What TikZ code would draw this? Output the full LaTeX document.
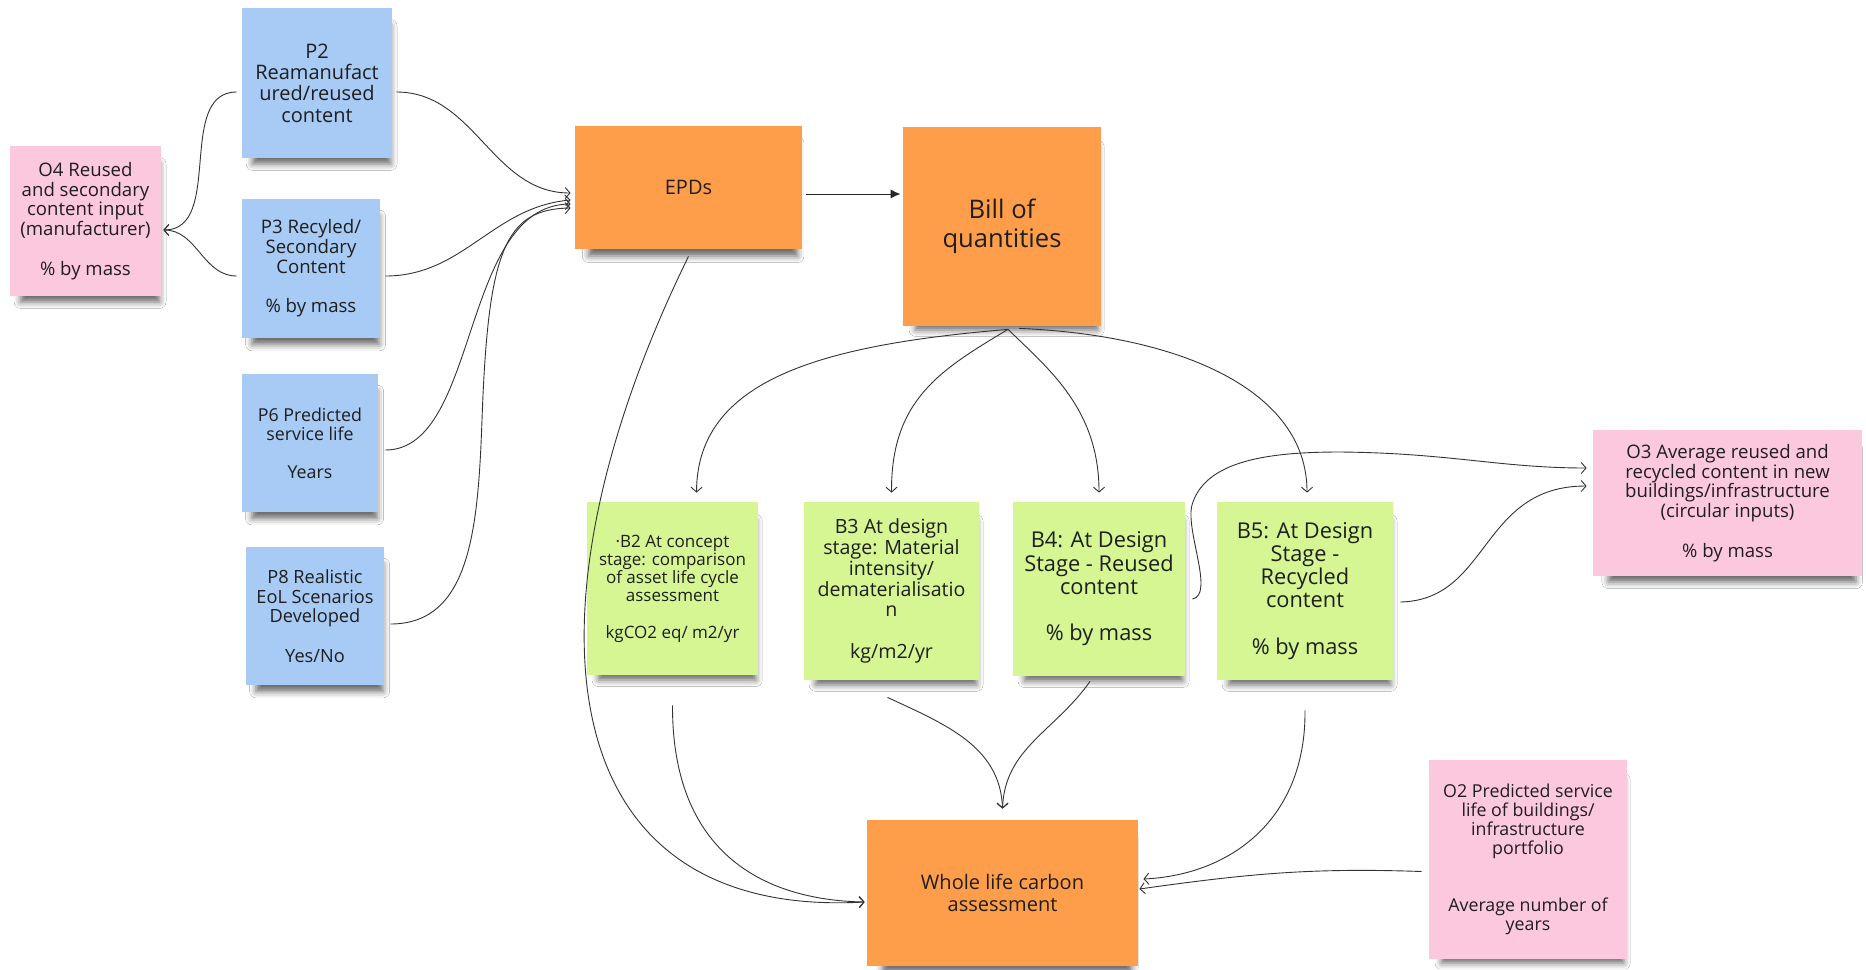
\documentclass[tikz,border=0pt]{standalone}
\usepackage{fontspec}
\setmainfont{Open Sans}
\usetikzlibrary{positioning,arrows.meta,shadows.blur}
\definecolor{noteblue}{HTML}{A7CBF4}
\definecolor{notepink}{HTML}{FCC8DD}
\definecolor{noteorange}{HTML}{FF9E4A}
\definecolor{notegreen}{HTML}{D5F692}
\definecolor{notetext}{HTML}{1E1E1E}
\tikzset{
    note/.style={align=center, inner sep=0pt, text=notetext,
        blur shadow={shadow xshift=2.5pt, shadow yshift=-6.5pt, shadow scale=0.92,
            shadow blur radius=3.5pt, shadow opacity=60}},
    % Parameter note
    note_blue/.style = {note, fill=noteblue},
    % Outcome note
    note_pink/.style = {note, fill=notepink},
    % Process note
    note_orange/.style = {note, fill=noteorange},
    % Benchmark note
    note_green/.style = {note, fill=notegreen},
    link/.style = {draw=black!80, line width=0.45pt, -{Straight Barb[length=2.4pt,width=5.5pt]}},
    link_solid/.style = {draw=black!85, line width=0.5pt, -{Latex[length=5pt,width=4.5pt]}}
}

\begin{document}
\begin{tikzpicture}[x=0.5pt, y=-0.5pt]
    \useasboundingbox[fill=white] (0,0) rectangle (1866,969);

    \node[note_pink, minimum width=75.5pt, minimum height=75pt, font=\fontsize{9.3}{9.9}\selectfont] (o4) at (85.5,221)
        {O4 Reused\\and secondary\\content input\\(manufacturer)\\[9.9pt]\% by mass};
    \node[note_blue, minimum width=75pt, minimum height=75pt, font=\fontsize{10}{10.7}\selectfont] (p2) at (317,83)
        {P2\\Reamanufact\\ured/reused\\content};
    \node[note_blue, minimum width=69pt, minimum height=69.5pt, font=\fontsize{9.3}{9.9}\selectfont] (p3) at (311,268.5)
        {P3 Recyled/\\Secondary\\Content\\[9.9pt]\% by mass};
    \node[note_blue, minimum width=68pt, minimum height=69pt, font=\fontsize{8.9}{9.5}\selectfont] (p6) at (310,443)
        {P6 Predicted\\service life\\[9.5pt]Years};
    \node[note_blue, minimum width=69pt, minimum height=69pt, font=\fontsize{9.1}{9.8}\selectfont] (p8) at (315,616)
        {P8 Realistic\\EoL Scenarios\\Developed\\[9.8pt]Yes/No};

    \node[note_orange, minimum width=113.5pt, minimum height=61.5pt, font=\fontsize{10}{10.7}\selectfont] (epd) at (688.5,187.5) {EPDs};
    \node[note_orange, minimum width=99pt, minimum height=99.5pt, font=\fontsize{12.8}{14.3}\selectfont] (boq) at (1002,226.5)
        {Bill of\\quantities};

    \node[note_green, minimum width=85.5pt, minimum height=86.5pt, font=\fontsize{8.5}{9.1}\selectfont] (b2) at (672.5,588.5)
        {·B2 At concept\\stage: comparison\\of asset life cycle\\assessment\\[9.1pt]kgCO2 eq/ m2/yr};
    \node[note_green, minimum width=87.5pt, minimum height=89pt, font=\fontsize{9.8}{10.4}\selectfont] (b3) at (891.5,591)
        {B3 At design\\stage: Material\\intensity/\\dematerialisatio\\n\\[10.4pt]kg/m2/yr};
    \node[note_green, minimum width=86pt, minimum height=87pt, font=\fontsize{10.9}{11.6}\selectfont] (b4) at (1099,589)
        {B4: At Design\\Stage - Reused\\content\\[11.6pt]\% by mass};
    \node[note_green, minimum width=88pt, minimum height=89pt, font=\fontsize{10.9}{11.6}\selectfont] (b5) at (1305,591)
        {B5: At Design\\Stage -\\Recycled\\content\\[11.6pt]\% by mass};

    \node[note_pink, minimum width=134.5pt, minimum height=73pt, font=\fontsize{9.3}{9.9}\selectfont] (o3) at (1727.5,503)
        {O3 Average reused and\\recycled content in new\\buildings/infrastructure\\(circular inputs)\\[9.9pt]\% by mass};
    \node[note_orange, minimum width=135.5pt, minimum height=73pt, font=\fontsize{10}{10.7}\selectfont] (wlc) at (1002.5,893)
        {Whole life carbon\\assessment};
    \node[note_pink, minimum width=99pt, minimum height=99.5pt, font=\fontsize{8.9}{9.5}\selectfont] (o2) at (1528,859.5)
        {O2 Predicted service\\life of buildings/\\infrastructure\\portfolio\\[19pt]Average number of\\years};

    % parameters to O4
    \draw[link] ([xshift=-2.5pt,yshift=-4.5pt]p2.west) to[out=180,in=0] ([xshift=1pt,yshift=-4.5pt]o4.east);
    \draw[link] ([xshift=-2.5pt,yshift=-3.75pt]p3.west) to[out=180,in=0] ([xshift=1pt,yshift=-4.5pt]o4.east);

    % parameters to EPDs
    \draw[link] ([xshift=2pt,yshift=-4.5pt]p2.east) to[out=0,in=180] ([xshift=-2pt,yshift=-2.75pt]epd.west);
    \draw[link] ([xshift=2.5pt,yshift=-3.75pt]p3.east) to[out=0,in=185] ([xshift=-2pt,yshift=-6.25pt]epd.west);
    \draw[link] ([xshift=3.5pt,yshift=-3.5pt]p6.east) .. controls (480,450) and (460,205) .. ([xshift=-2pt,yshift=-8.25pt]epd.west);
    \draw[link] ([xshift=3pt,yshift=-4pt]p8.east) .. controls (470,624) and (478,530) .. (482,420)
        .. controls (488,250) and (505,209) .. ([xshift=-2pt,yshift=-10.25pt]epd.west);

    \coordinate (epd_out) at ([xshift=2pt,yshift=-3.25pt]epd.east);
    \draw[link_solid] (epd_out) -- ([xshift=-1pt]epd_out -| boq.west);

    % bill of quantities to benchmarks
    \coordinate (boq_out) at ([xshift=3pt,yshift=-1.5pt]boq.south);
    \draw[link] (boq_out) .. controls (820,345) and (697,380) .. ([xshift=12pt,yshift=4.5pt]b2.north);
    \draw[link] (boq_out) .. controls (940,370) and (891,400) .. ([yshift=4.5pt]b3.north);
    \draw[link] (boq_out) .. controls (1050,370) and (1099,410) .. ([yshift=4.5pt]b4.north);
    \draw[link] ([xshift=8.5pt,yshift=-1pt]boq.south) .. controls (1180,335) and (1307,390) .. ([xshift=1pt,yshift=4.5pt]b5.north);

    % benchmarks to O3
    \draw[link] ([xshift=3.5pt,yshift=-5pt]b4.east) .. controls (1215,595) and (1185,530) .. (1192,505)
        .. controls (1205,460) and (1270,452) .. (1340,452) .. controls (1450,453) and (1500,468) .. ([xshift=-3pt,yshift=17.5pt]o3.west);
    \draw[link] ([xshift=3.5pt,yshift=-5.5pt]b5.east) .. controls (1490,600) and (1480,486) .. ([xshift=-3pt,yshift=8.5pt]o3.west);

    % into whole life carbon assessment
    \draw[link] ([yshift=-3.5pt]epd.south) .. controls (520,600) and (540,920) .. ([xshift=-1pt,yshift=-4.5pt]wlc.west);
    \draw[link] ([yshift=-15pt]b2.south) .. controls (672,850) and (760,900) .. ([xshift=-1pt,yshift=-4.5pt]wlc.west);
    \draw[link] ([xshift=-2pt,yshift=-8.5pt]b3.south) to[out=-25,in=92] ([yshift=5.5pt]wlc.north);
    \draw[link] ([xshift=-4.5pt,yshift=-2.5pt]b4.south) to[out=-125,in=88] ([yshift=5.5pt]wlc.north);
    \draw[link] ([yshift=-15pt]b5.south) .. controls (1306,820) and (1230,875) .. ([xshift=2.5pt,yshift=7pt]wlc.east);
    \draw[link] ([xshift=-3.5pt,yshift=-6pt]o2.west) to[out=178,in=8] ([xshift=0.5pt,yshift=2pt]wlc.east);
\end{tikzpicture}
\end{document}
